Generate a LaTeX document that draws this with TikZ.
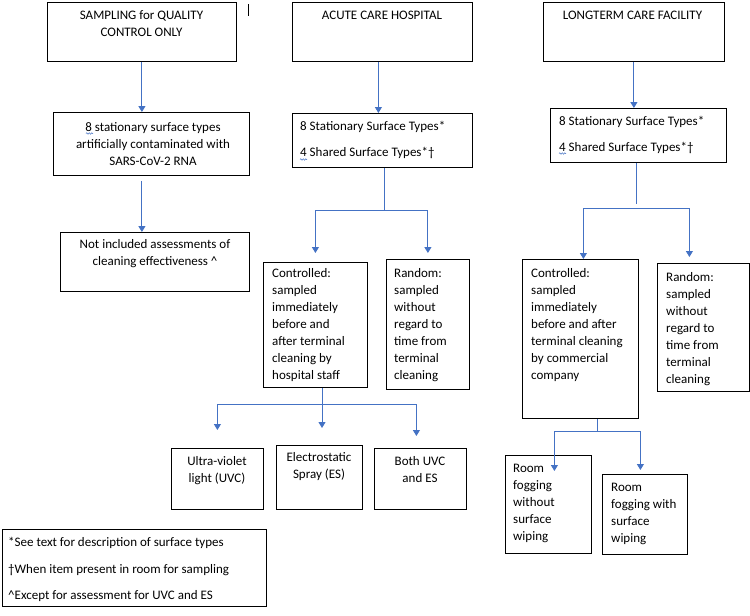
\documentclass[tikz,border=0pt]{standalone}
\usepackage{fontspec}
\setmainfont{Carlito}
\usetikzlibrary{arrows.meta,decorations.pathmorphing}
\definecolor{arrblue}{HTML}{4472C4}
\newcommand\firstln{\rule{0pt}{10pt}}
\begin{document}
\begin{tikzpicture}[x=1pt,y=-1pt,
  frame/.style={draw=black, line width=0.8pt, inner sep=0pt, anchor=north west},
  lbl/.style={font=\fontsize{13}{17}\selectfont, inner sep=0pt, text=black},
  lblc/.style={lbl, align=center, anchor=north},
  lbll/.style={lbl, align=left, anchor=north west},
  conn/.style={draw=arrblue, line width=0.9pt},
  arr/.style={conn, -{Triangle[width=7pt,length=6pt]}},
  squig/.style={draw=arrblue, line width=0.5pt, decorate, decoration={snake, amplitude=0.7pt, segment length=2.5pt}}
]
\fill[white] (0,0) rectangle (750,616);
\useasboundingbox (0,0) rectangle (750,616);

% frames
\node[frame, minimum width=189pt, minimum height=59pt] (a1) at (47,2) {};
\node[frame, minimum width=196pt, minimum height=63pt] (a2) at (53,112) {};
\node[frame, minimum width=189pt, minimum height=59pt] (a3) at (60,232) {};
\node[frame, minimum width=180pt, minimum height=59pt] (b1) at (292,2) {};
\node[frame, minimum width=180pt, minimum height=54pt] (b2) at (292,113) {};
\node[frame, minimum width=104pt, minimum height=125pt] (b3) at (263,262) {};
\node[frame, minimum width=83pt, minimum height=130pt] (b4) at (386,259) {};
\node[frame, minimum width=92pt, minimum height=61pt] (b5) at (171,448) {};
\node[frame, minimum width=86pt, minimum height=64pt] (b6) at (276,445) {};
\node[frame, minimum width=92pt, minimum height=61pt] (b7) at (374,448) {};
\node[frame, minimum width=181pt, minimum height=59pt] (c1) at (543,2) {};
\node[frame, minimum width=176pt, minimum height=54pt] (c2) at (550,108) {};
\node[frame, minimum width=116pt, minimum height=159pt] (c3) at (522,259) {};
\node[frame, minimum width=92pt, minimum height=128pt] (c4) at (657,263) {};
\node[frame, minimum width=86pt, minimum height=98pt] (c5) at (505,455) {};
\node[frame, minimum width=85pt, minimum height=80pt] (c6) at (602,474) {};
\node[frame, minimum width=264pt, minimum height=77pt] (leg) at (2,529) {};

% stray mark
\draw[line width=0.8pt] (248,4) -- (248,16);

% texts
\node[lblc] (a1t) at (141.5,9.5) {\firstln SAMPLING for QUALITY\\CONTROL ONLY};
\node[lblc] (a2t) at (153,121.5) {\firstln 8 stationary surface types\\artificially contaminated with\\SARS-CoV-2 RNA};
\node[lblc] (a3t) at (155,238.5) {\firstln Not included assessments of\\cleaning effectiveness \textasciicircum};
\node[lblc] (b1t) at (382,9.5) {\firstln ACUTE CARE HOSPITAL};
\node[lbll] (b2t) at (300,120.5) {\firstln 8 Stationary Surface Types*\\[9pt]4 Shared Surface Types*†};
\node[lbll] (b3t) at (272,267.5) {\firstln Controlled:\\sampled\\immediately\\before and\\after terminal\\cleaning by\\hospital staff};
\node[lbll] (b4t) at (394,267.5) {\firstln Random:\\sampled\\without\\regard to\\time from\\terminal\\cleaning};
\node[lblc] (b5t) at (217,455.5) {\firstln Ultra-violet\\light (UVC)};
\node[lblc] (b6t) at (319,451.5) {\firstln Electrostatic\\Spray (ES)};
\node[lblc] (b7t) at (420,455.5) {\firstln Both UVC\\and ES};
\node[lblc] (c1t) at (632.5,9.5) {\firstln LONGTERM CARE FACILITY};
\node[lbll] (c2t) at (559,115.5) {\firstln 8 Stationary Surface Types*\\[9pt]4 Shared Surface Types*†};
\node[lbll] (c3t) at (531,267.5) {\firstln Controlled:\\sampled\\immediately\\before and after\\terminal cleaning\\by commercial\\company};
\node[lbll] (c4t) at (666,271.5) {\firstln Random:\\sampled\\without\\regard to\\time from\\terminal\\cleaning};
\node[lbll] (c5t) at (513,462.5) {\firstln Room\\fogging\\without\\surface\\wiping};
\node[lbll] (c6t) at (611,481.5) {\firstln Room\\fogging with\\surface\\wiping};
\node[lbll] (legt) at (8,536.5) {\firstln *See text for description of surface types\\[9.5pt]†When item present in room for sampling\\[9.5pt]\textasciicircum Except for assessment for UVC and ES};

% spell-check squiggles
\draw[squig] (86,133.5) -- (93,133.5);
\draw[squig] (300,159.5) -- (307,159.5);
\draw[squig] (559,153.5) -- (566,153.5);

% connectors: left column
\draw[arr] (a1.south) -- (a1.south |- a2.north);
\draw[arr] ([yshift=-5pt]a1.south |- a2.south) -- (a1.south |- a3.north);

% middle column
\draw[arr] ([xshift=-4pt]b1.south) -- ([xshift=-4pt]b1.south |- b2.north);
\coordinate (bs) at (384,210);
\draw[conn] (bs |- b2.south) -- (bs);
\draw[arr] (bs) -| ([yshift=9pt]b3.north);
\draw[arr] (bs) -| ([yshift=6pt]b4.north);
\coordinate (bs2) at (322,404);
\draw[conn] (bs2 |- b3.south) -- (bs2);
\draw[arr] (bs2) -| ([yshift=18pt]b5.north);
\draw[arr] (bs2) -- ([yshift=17pt]b6.north -| bs2);
\draw[arr] (bs2) -| ([xshift=-4pt,yshift=12pt]b7.north);

% right column
\draw[arr] (c1.south) -- (c1.south |- c2.north);
\coordinate (cs) at (636,208);
\draw[conn] (cs |- c2.south) -- ([yshift=4pt]cs);
\draw[arr] (cs) -| ([xshift=3pt]c3.north);
\draw[arr] (cs) -| ([xshift=-14pt,yshift=6pt]c4.north);
\coordinate (cs2) at (597,431);
\draw[conn] (cs2 |- c3.south) -- (cs2);
\draw[arr] (cs2) -| ([xshift=6pt,yshift=-16pt]c5.north);
\draw[arr] (cs2) -| ([xshift=-4.5pt,yshift=4pt]c6.north);
\end{tikzpicture}
\end{document}
